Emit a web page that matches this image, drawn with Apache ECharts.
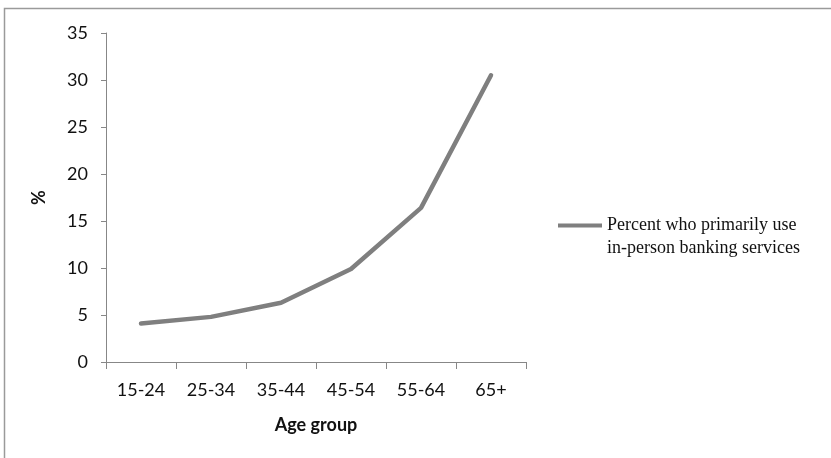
<!DOCTYPE html>
<html>
<head>
<meta charset="utf-8">
<script src="https://cdn.jsdelivr.net/npm/echarts@6/dist/echarts.min.js"></script>
<style>
  html, body { margin: 0; padding: 0; background: #ffffff; }
  #chart { width: 831px; height: 458px; }
</style>
</head>
<body>
<div id="chart"></div>
<script>
// Age groups along the horizontal axis
const ageGroups = ['15-24', '25-34', '35-44', '45-54', '55-64', '65+'];
// Share of people who primarily use in-person banking services (%)
const inPersonShare = [4.1, 4.8, 6.3, 9.9, 16.4, 30.5];
const seriesName = 'Percent who primarily use\nin-person banking services';
const yTicks = { min: 0, max: 35, interval: 5 };

const chart = echarts.init(document.getElementById('chart'), null, { renderer: 'canvas' });

const axisGray = '#878787';
const textDark = '#111111';
const sansFont = 'Lato, "Open Sans", sans-serif';

chart.setOption({
  animation: false,
  backgroundColor: '#ffffff',
  graphic: [{
    type: 'rect',
    silent: true,
    shape: { x: 4.5, y: 8.5, width: 900, height: 600 },
    style: { fill: 'none', stroke: '#9a9a9a', lineWidth: 1.5 }
  }],
  grid: { left: 106, right: 305, top: 33, bottom: 96, containLabel: false },
  legend: {
    show: true,
    orient: 'vertical',
    left: 553,
    top: 186,
    icon: 'rect',
    itemWidth: 44,
    itemHeight: 4,
    itemGap: 0,
    // a blank leading line keeps the marker level with the first text line
    formatter: function (name) { return '\n' + name; },
    textStyle: {
      fontFamily: '"Liberation Serif", "Times New Roman", serif',
      fontSize: 18,
      color: textDark,
      lineHeight: 23
    },
    data: [seriesName]
  },
  xAxis: {
    type: 'category',
    data: ageGroups,
    boundaryGap: true,
    name: 'Age group',
    nameLocation: 'middle',
    nameGap: 54,
    nameTextStyle: { fontFamily: sansFont, fontSize: 18, fontWeight: 'bold', color: textDark },
    axisLine: { lineStyle: { color: axisGray, width: 1 } },
    axisTick: { show: true, alignWithLabel: false, length: 7, lineStyle: { color: axisGray } },
    axisLabel: { fontFamily: sansFont, fontSize: 18, color: textDark, margin: 19 },
    splitLine: { show: false }
  },
  yAxis: {
    type: 'value',
    min: yTicks.min,
    max: yTicks.max,
    interval: yTicks.interval,
    name: '%',
    nameLocation: 'middle',
    nameGap: 58,
    nameRotate: 90,
    nameTextStyle: { fontFamily: sansFont, fontSize: 18, fontWeight: 'bold', color: textDark },
    axisLine: { show: true, lineStyle: { color: axisGray, width: 1 } },
    axisTick: { show: true, length: 5, lineStyle: { color: axisGray } },
    axisLabel: { fontFamily: sansFont, fontSize: 18, color: textDark, margin: 18 },
    splitLine: { show: false }
  },
  series: [{
    name: seriesName,
    type: 'line',
    data: inPersonShare,
    showSymbol: false,
    symbol: 'none',
    lineStyle: { color: '#7f7f7f', width: 4.5, cap: 'round', join: 'round' },
    itemStyle: { color: '#7f7f7f' }
  }]
});
</script>
</body>
</html>
